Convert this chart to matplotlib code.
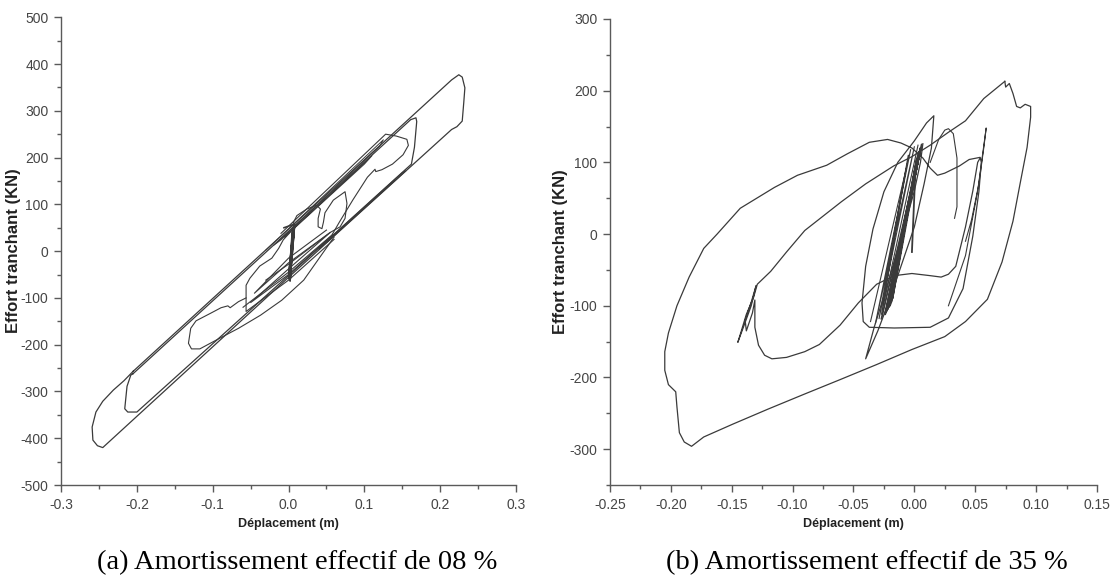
import numpy as np
import matplotlib
matplotlib.use("Agg")
import matplotlib.pyplot as plt
from matplotlib.ticker import MultipleLocator, FuncFormatter

plt.rcParams["axes.unicode_minus"] = False

# Courbes force-deplacement (m, kN) relevees sur les deux essais
# (a) amortissement effectif 08 %
a_outer = [(-0.205, -257), (0.0, 47), (0.215, 366), (0.2245, 377), (0.229, 372),
           (0.2325, 349), (0.231, 317), (0.229, 278), (0.222, 266), (0.215, 260),
           (0.0, -56), (-0.245, -420), (-0.252, -416), (-0.258, -404), (-0.259, -376),
           (-0.254, -344), (-0.245, -321), (-0.231, -297), (-0.217, -277), (-0.205, -257)]
a_loop2 = [(-0.205, -262), (0.0, 42), (0.161, 281), (0.168, 285), (0.169, 277),
           (0.166, 222), (0.162, 186), (0.0, -52), (-0.2, -344), (-0.212, -344),
           (-0.216, -337), (-0.213, -289), (-0.208, -265), (-0.205, -262)]
a_upper = [(-0.03, 2), (0.125, 238), (0.12, 224), (-0.02, 12), (-0.01, 24),
           (0.11, 204), (0.1, 186), (-0.005, 30)]
a_lower = [(0.05, 18), (0.155, 172), (0.15, 168), (0.045, 14), (0.04, 4), (0.14, 152)]
a_loop3 = [(-0.01, 38), (0.128, 250), (0.142, 246), (0.156, 239), (0.158, 226),
           (0.151, 206), (0.137, 186), (0.123, 174), (0.115, 170), (0.114, 175),
           (0.104, 158), (0.085, 110), (0.067, 62), (0.057, 34), (0.0, -45), (-0.06, -120)]
a_mid = [(0.006, 60), (0.011, 76), (0.024, 90), (0.037, 98), (0.042, 90),
         (0.039, 70), (0.039, 52), (0.044, 48), (0.046, 62), (0.048, 82), (0.059, 109),
         (0.0745, 127), (0.077, 102), (0.0745, 70), (0.068, 52), (0.055, 40),
         (0.0, -28), (-0.03, -62)]
a_low1 = [(0.002, 40), (-0.007, 24), (-0.013, 6), (-0.022, -15), (-0.038, -32),
          (-0.051, -58), (-0.056, -73), (-0.056, -129), (0.0, -62), (0.06, 25)]
a_low2 = [(-0.056, -100), (-0.066, -108), (-0.077, -121), (-0.08, -117),
          (-0.089, -121), (-0.103, -133), (-0.122, -149), (-0.129, -165), (-0.132, -197),
          (-0.128, -209), (-0.117, -209), (-0.094, -189), (-0.066, -165), (-0.037, -137),
          (-0.009, -105), (0.02, -62), (0.06, 30)]
a_bundle = [(0.058, 35), (0.0, -50), (-0.05, -110), (0.0, -38), (0.055, 40),
            (0.0, -25), (-0.045, -90), (0.0, -15), (0.05, 45)]
a_band = [(-0.006, 50), (0.008, 58), (0.002, -62), (0.007, 54), (0.001, -58),
          (0.008, 56), (0.002, -64), (0.006, 50), (0.0, -55), (0.007, 57),
          (0.001, -60), (0.005, 48)]

# (b) amortissement effectif 35 %
b_outer = [(0.0743, 213), (0.075, 205), (0.078, 210), (0.081, 196), (0.084, 178),
           (0.087, 176), (0.091, 181), (0.0955, 178), (0.0955, 163), (0.0926, 121),
           (0.0867, 69), (0.081, 18), (0.072, -39), (0.060, -91), (0.042, -122),
           (0.025, -143), (-0.002, -161), (-0.031, -182), (-0.061, -203), (-0.09, -223),
           (-0.12, -244), (-0.149, -265), (-0.173, -283), (-0.183, -296), (-0.189, -290),
           (-0.193, -277), (-0.195, -241), (-0.196, -220), (-0.202, -210), (-0.205, -190),
           (-0.205, -164), (-0.202, -138), (-0.195, -100), (-0.185, -60), (-0.173, -20),
           (-0.162, 0), (-0.143, 36), (-0.115, 65), (-0.096, 82), (-0.072, 96),
           (-0.055, 112), (-0.037, 128), (-0.022, 132), (-0.011, 127), (-0.002, 120),
           (0.007, 106), (0.013, 92), (0.019, 82), (0.025, 85), (0.037, 95),
           (0.045, 104), (0.054, 107), (0.055, 100), (0.053, 59), (0.048, -3),
           (0.04, -76), (0.028, -117), (0.013, -130), (-0.0165, -131), (-0.037, -130),
           (-0.042, -122), (-0.043, -96), (-0.04, -45), (-0.034, 7), (-0.025, 59),
           (-0.0136, 100), (0.0, 130), (0.01, 155), (0.016, 165), (0.014, 120),
           (0.008, 70), (0.0, 10), (-0.01, -40), (-0.02, -90), (-0.03, -135),
           (-0.04, -174), (-0.033, -130), (-0.022, -70), (-0.01, 0), (0.0, 60),
           (0.005, 100), (0.007, 126)]
b_inner = [(0.0743, 213), (0.057, 189), (0.042, 158), (0.028, 142), (0.013, 124),
           (-0.002, 108), (-0.017, 95), (-0.04, 70), (-0.06, 45), (-0.072, 29),
           (-0.09, 5), (-0.105, -25), (-0.118, -52), (-0.129, -70), (-0.132, -88),
           (-0.138, -112), (-0.143, -140), (-0.145, -151), (-0.140, -128), (-0.134, -100),
           (-0.130, -72), (-0.134, -95), (-0.139, -120), (-0.138, -135), (-0.133, -110),
           (-0.131, -92), (-0.131, -130), (-0.128, -155), (-0.123, -169), (-0.117, -174),
           (-0.105, -172), (-0.090, -164), (-0.078, -154), (-0.061, -127), (-0.046, -96),
           (-0.031, -70), (-0.0165, -58), (-0.002, -55), (0.013, -58), (0.022, -60),
           (0.028, -56), (0.034, -45), (0.042, 10), (0.048, 60), (0.052, 100), (0.054, 106)]
b_spike = [(0.028, -100), (0.042, -30), (0.052, 60), (0.059, 148), (0.057, 120),
           (0.053, 70), (0.047, 20), (0.042, -10)]
b_bump = [(0.013, 100), (0.02, 132), (0.025, 145), (0.028, 147), (0.032, 140),
          (0.035, 106), (0.035, 38), (0.033, 22)]
b_fan = [(-0.036, -122), (-0.003, 118), (-0.032, -125), (0.0, 122), (-0.029, -118),
         (-0.005, 110), (-0.027, -112), (0.003, 124)]
b_band = [(-0.027, -118), (0.006, 125), (-0.024, -112), (0.005, 120), (-0.022, -105),
          (0.004, 115), (-0.020, -100), (0.003, 110), (-0.019, -95), (0.002, 105),
          (-0.018, -90), (0.004, 112), (-0.021, -102), (0.005, 118), (-0.023, -108),
          (0.001, 95), (-0.002, -25)]

curve_colour = "#3a3a3a"
grey = "#5a5a5a"
sans = ["Liberation Sans", "DejaVu Sans"]


def draw(ax, curves, xlim, ylim, xmaj, xmin, ymaj, ymin, ndec, ypad):
    for pts, lw in curves:
        xy = np.array(pts, dtype=float)
        ax.plot(xy[:, 0], xy[:, 1], color=curve_colour, lw=lw, solid_joinstyle="round")
    ax.set_xlim(*xlim)
    ax.set_ylim(*ylim)
    ax.xaxis.set_major_locator(MultipleLocator(xmaj))
    ax.xaxis.set_minor_locator(MultipleLocator(xmin))
    ax.yaxis.set_major_locator(MultipleLocator(ymaj))
    ax.yaxis.set_minor_locator(MultipleLocator(ymin))
    ax.xaxis.set_major_formatter(FuncFormatter(lambda v, p: f"{v:.{ndec}f}"))
    ax.yaxis.set_major_formatter(FuncFormatter(lambda v, p: f"{v:.0f}"))
    for side in ("top", "right"):
        ax.spines[side].set_visible(False)
    for side in ("left", "bottom"):
        ax.spines[side].set_color(grey)
        ax.spines[side].set_linewidth(1.0)
    ax.tick_params(which="major", direction="out", length=5, width=1.0, color=grey,
                   labelcolor="#454545", labelsize=10, pad=4)
    ax.tick_params(which="minor", direction="out", length=3, width=1.0, color=grey)
    for lab in ax.get_xticklabels() + ax.get_yticklabels():
        lab.set_family(sans)
    ax.set_xlabel("Déplacement (m)", family=sans, fontweight="bold",
                  fontsize=9, color="#222222", labelpad=5)
    ax.set_ylabel("Effort tranchant (KN)", family=sans,
                  fontweight="bold", fontsize=12, color="#222222", labelpad=ypad)


fig = plt.figure(figsize=(11.18, 5.84), dpi=100)
axA = fig.add_axes([0.0546, 0.1695, 0.407, 0.801])
axB = fig.add_axes([0.5456, 0.1695, 0.4356, 0.798])

draw(axA,
     [(a_outer, 0.9), (a_loop2, 0.9), (a_upper, 0.7), (a_lower, 0.7), (a_loop3, 0.8),
      (a_mid, 0.8), (a_low1, 0.8), (a_low2, 0.8), (a_bundle, 0.8), (a_band, 1.2)],
     (-0.3, 0.3), (-500, 500), 0.1, 0.05, 100, 50, 1, 0)
draw(axB,
     [(b_outer, 0.9), (b_inner, 0.9), (b_spike, 0.8), (b_bump, 0.8), (b_fan, 0.8),
      (b_band, 1.3)],
     (-0.25, 0.15), (-350, 300), 0.05, 0.025, 100, 50, 2, 1)

fig.text(0.2657, 0.036, "(a) Amortissement effectif de 08 %", ha="center", va="center",
         family="Liberation Serif", fontsize=20.5)
fig.text(0.7755, 0.036, "(b) Amortissement effectif de 35 %", ha="center", va="center",
         family="Liberation Serif", fontsize=20.5)

fig.savefig("out.png", dpi=100)
